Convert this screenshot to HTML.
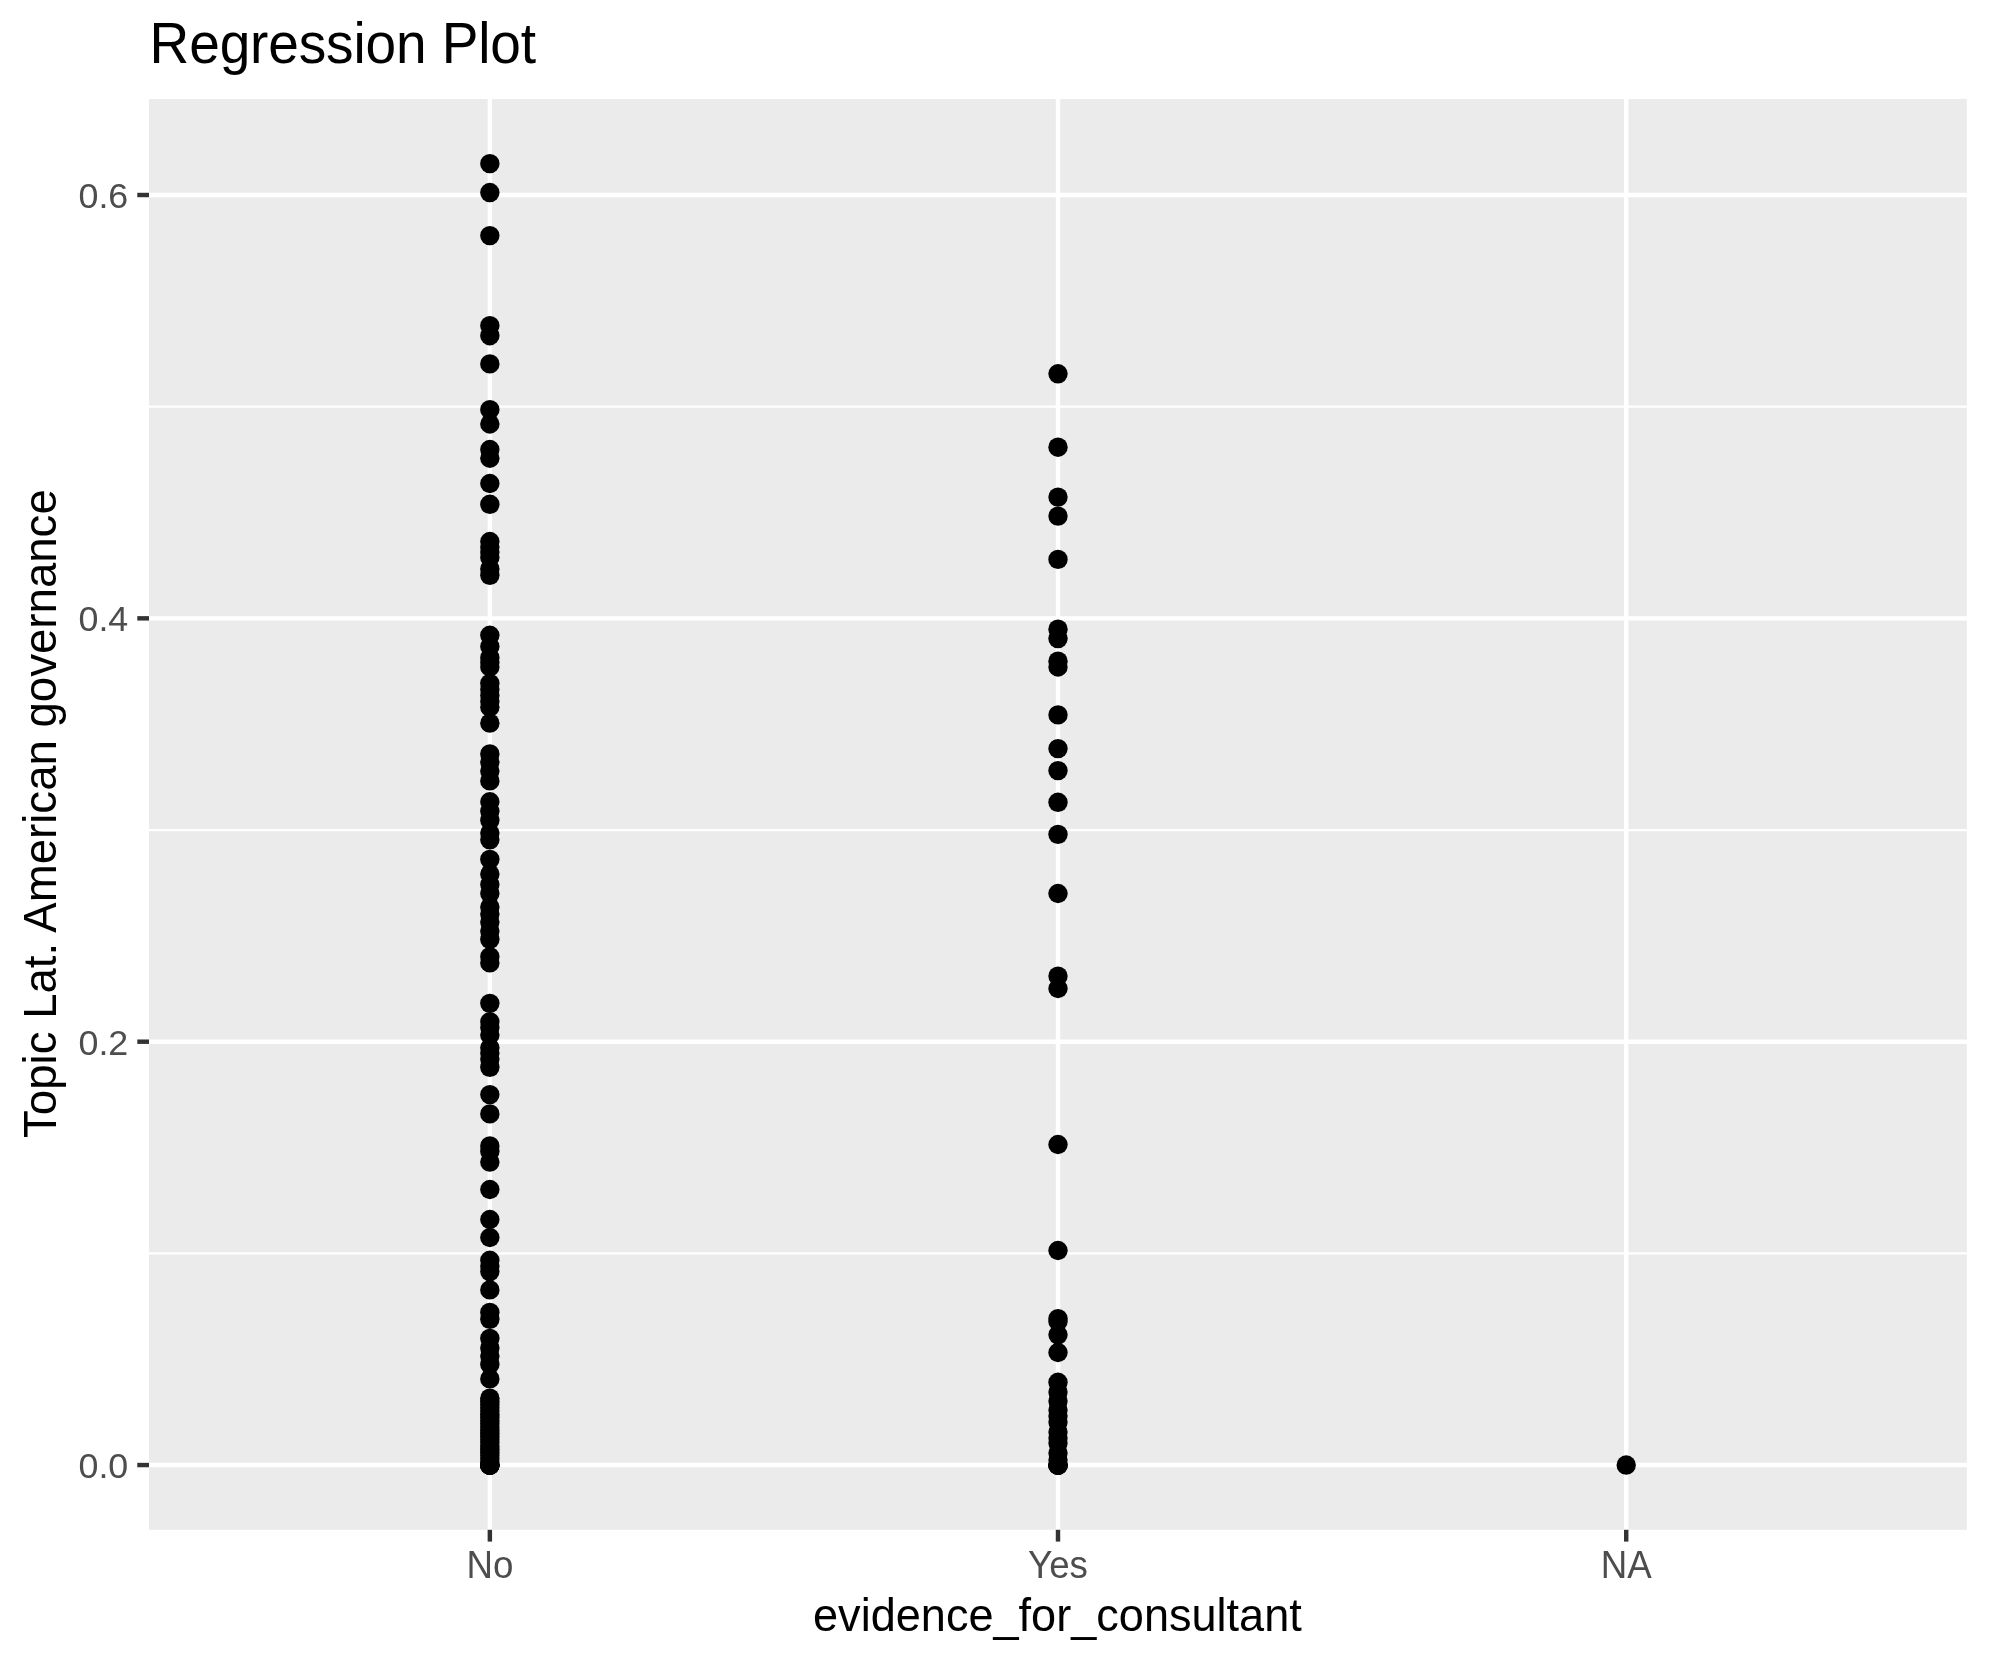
<!DOCTYPE html>
<html><head><meta charset="utf-8"><title>Regression Plot</title>
<style>
html,body{margin:0;padding:0;background:#fff;}
body{width:1990px;height:1665px;overflow:hidden;font-family:"Liberation Sans",sans-serif;}
svg{display:block;will-change:transform;}
text{font-family:"Liberation Sans",sans-serif;}
</style></head><body>
<svg width="1990" height="1665" viewBox="0 0 1990 1665">
<rect x="0" y="0" width="1990" height="1665" fill="#ffffff"/>
<rect x="149" y="99" width="1817.85" height="1430.8" fill="#ebebeb"/>
<g stroke="#ffffff" stroke-width="2.225" fill="none">
<line x1="149" x2="1966.85" y1="1253.38" y2="1253.38"/>
<line x1="149" x2="1966.85" y1="830.02" y2="830.02"/>
<line x1="149" x2="1966.85" y1="406.67" y2="406.67"/>
</g>
<g stroke="#ffffff" stroke-width="4.45" fill="none">
<line x1="149" x2="1966.85" y1="1465.05" y2="1465.05"/>
<line x1="149" x2="1966.85" y1="1041.70" y2="1041.70"/>
<line x1="149" x2="1966.85" y1="618.35" y2="618.35"/>
<line x1="149" x2="1966.85" y1="195.00" y2="195.00"/>
<line x1="489.85" x2="489.85" y1="99" y2="1529.8"/>
<line x1="1058.00" x2="1058.00" y1="99" y2="1529.8"/>
<line x1="1626.20" x2="1626.20" y1="99" y2="1529.8"/>
</g>
<g fill="#000000">
<circle cx="489.85" cy="163.65" r="9.7"/>
<circle cx="489.85" cy="192.55" r="9.7"/>
<circle cx="489.85" cy="235.60" r="9.7"/>
<circle cx="489.85" cy="325.70" r="9.7"/>
<circle cx="489.85" cy="335.70" r="9.7"/>
<circle cx="489.85" cy="363.90" r="9.7"/>
<circle cx="489.85" cy="409.70" r="9.7"/>
<circle cx="489.85" cy="424.00" r="9.7"/>
<circle cx="489.85" cy="449.50" r="9.7"/>
<circle cx="489.85" cy="458.20" r="9.7"/>
<circle cx="489.85" cy="483.50" r="9.7"/>
<circle cx="489.85" cy="504.30" r="9.7"/>
<circle cx="489.85" cy="541.50" r="9.7"/>
<circle cx="489.85" cy="547.00" r="9.7"/>
<circle cx="489.85" cy="552.00" r="9.7"/>
<circle cx="489.85" cy="557.60" r="9.7"/>
<circle cx="489.85" cy="568.90" r="9.7"/>
<circle cx="489.85" cy="575.30" r="9.7"/>
<circle cx="489.85" cy="635.30" r="9.7"/>
<circle cx="489.85" cy="646.50" r="9.7"/>
<circle cx="489.85" cy="657.70" r="9.7"/>
<circle cx="489.85" cy="662.50" r="9.7"/>
<circle cx="489.85" cy="667.00" r="9.7"/>
<circle cx="489.85" cy="683.40" r="9.7"/>
<circle cx="489.85" cy="689.50" r="9.7"/>
<circle cx="489.85" cy="695.50" r="9.7"/>
<circle cx="489.85" cy="701.50" r="9.7"/>
<circle cx="489.85" cy="707.20" r="9.7"/>
<circle cx="489.85" cy="723.15" r="9.7"/>
<circle cx="489.85" cy="753.90" r="9.7"/>
<circle cx="489.85" cy="762.00" r="9.7"/>
<circle cx="489.85" cy="771.00" r="9.7"/>
<circle cx="489.85" cy="780.90" r="9.7"/>
<circle cx="489.85" cy="801.80" r="9.7"/>
<circle cx="489.85" cy="811.30" r="9.7"/>
<circle cx="489.85" cy="820.30" r="9.7"/>
<circle cx="489.85" cy="833.00" r="9.7"/>
<circle cx="489.85" cy="839.80" r="9.7"/>
<circle cx="489.85" cy="859.40" r="9.7"/>
<circle cx="489.85" cy="874.10" r="9.7"/>
<circle cx="489.85" cy="884.60" r="9.7"/>
<circle cx="489.85" cy="893.60" r="9.7"/>
<circle cx="489.85" cy="907.10" r="9.7"/>
<circle cx="489.85" cy="914.00" r="9.7"/>
<circle cx="489.85" cy="922.10" r="9.7"/>
<circle cx="489.85" cy="931.10" r="9.7"/>
<circle cx="489.85" cy="939.40" r="9.7"/>
<circle cx="489.85" cy="956.70" r="9.7"/>
<circle cx="489.85" cy="962.90" r="9.7"/>
<circle cx="489.85" cy="1003.35" r="9.7"/>
<circle cx="489.85" cy="1021.80" r="9.7"/>
<circle cx="489.85" cy="1027.50" r="9.7"/>
<circle cx="489.85" cy="1035.00" r="9.7"/>
<circle cx="489.85" cy="1047.80" r="9.7"/>
<circle cx="489.85" cy="1053.00" r="9.7"/>
<circle cx="489.85" cy="1059.00" r="9.7"/>
<circle cx="489.85" cy="1067.30" r="9.7"/>
<circle cx="489.85" cy="1094.60" r="9.7"/>
<circle cx="489.85" cy="1113.90" r="9.7"/>
<circle cx="489.85" cy="1145.90" r="9.7"/>
<circle cx="489.85" cy="1151.40" r="9.7"/>
<circle cx="489.85" cy="1162.10" r="9.7"/>
<circle cx="489.85" cy="1189.50" r="9.7"/>
<circle cx="489.85" cy="1219.50" r="9.7"/>
<circle cx="489.85" cy="1237.50" r="9.7"/>
<circle cx="489.85" cy="1260.30" r="9.7"/>
<circle cx="489.85" cy="1266.00" r="9.7"/>
<circle cx="489.85" cy="1271.60" r="9.7"/>
<circle cx="489.85" cy="1289.90" r="9.7"/>
<circle cx="489.85" cy="1312.40" r="9.7"/>
<circle cx="489.85" cy="1319.30" r="9.7"/>
<circle cx="489.85" cy="1338.40" r="9.7"/>
<circle cx="489.85" cy="1347.90" r="9.7"/>
<circle cx="489.85" cy="1356.00" r="9.7"/>
<circle cx="489.85" cy="1364.40" r="9.7"/>
<circle cx="489.85" cy="1378.90" r="9.7"/>
<circle cx="489.85" cy="1398.20" r="9.7"/>
<circle cx="489.85" cy="1401.39" r="9.7"/>
<circle cx="489.85" cy="1404.58" r="9.7"/>
<circle cx="489.85" cy="1407.77" r="9.7"/>
<circle cx="489.85" cy="1410.96" r="9.7"/>
<circle cx="489.85" cy="1414.15" r="9.7"/>
<circle cx="489.85" cy="1417.34" r="9.7"/>
<circle cx="489.85" cy="1420.53" r="9.7"/>
<circle cx="489.85" cy="1423.72" r="9.7"/>
<circle cx="489.85" cy="1426.91" r="9.7"/>
<circle cx="489.85" cy="1430.10" r="9.7"/>
<circle cx="489.85" cy="1433.29" r="9.7"/>
<circle cx="489.85" cy="1436.48" r="9.7"/>
<circle cx="489.85" cy="1439.67" r="9.7"/>
<circle cx="489.85" cy="1442.86" r="9.7"/>
<circle cx="489.85" cy="1446.05" r="9.7"/>
<circle cx="489.85" cy="1449.24" r="9.7"/>
<circle cx="489.85" cy="1452.43" r="9.7"/>
<circle cx="489.85" cy="1455.62" r="9.7"/>
<circle cx="489.85" cy="1458.81" r="9.7"/>
<circle cx="489.85" cy="1462.00" r="9.7"/>
<circle cx="489.85" cy="1465.20" r="9.7"/>
<circle cx="489.85" cy="1465.20" r="9.7"/>
<circle cx="489.85" cy="1465.20" r="9.7"/>
<circle cx="489.85" cy="1465.20" r="9.7"/>
<circle cx="489.85" cy="1465.20" r="9.7"/>
<circle cx="489.85" cy="1465.20" r="9.7"/>
<circle cx="1058.00" cy="373.80" r="9.7"/>
<circle cx="1058.00" cy="447.20" r="9.7"/>
<circle cx="1058.00" cy="497.10" r="9.7"/>
<circle cx="1058.00" cy="516.10" r="9.7"/>
<circle cx="1058.00" cy="559.40" r="9.7"/>
<circle cx="1058.00" cy="629.20" r="9.7"/>
<circle cx="1058.00" cy="638.60" r="9.7"/>
<circle cx="1058.00" cy="661.20" r="9.7"/>
<circle cx="1058.00" cy="667.00" r="9.7"/>
<circle cx="1058.00" cy="714.90" r="9.7"/>
<circle cx="1058.00" cy="748.60" r="9.7"/>
<circle cx="1058.00" cy="770.60" r="9.7"/>
<circle cx="1058.00" cy="802.30" r="9.7"/>
<circle cx="1058.00" cy="834.35" r="9.7"/>
<circle cx="1058.00" cy="893.50" r="9.7"/>
<circle cx="1058.00" cy="976.10" r="9.7"/>
<circle cx="1058.00" cy="988.50" r="9.7"/>
<circle cx="1058.00" cy="1144.50" r="9.7"/>
<circle cx="1058.00" cy="1250.50" r="9.7"/>
<circle cx="1058.00" cy="1318.60" r="9.7"/>
<circle cx="1058.00" cy="1321.50" r="9.7"/>
<circle cx="1058.00" cy="1334.80" r="9.7"/>
<circle cx="1058.00" cy="1352.50" r="9.7"/>
<circle cx="1058.00" cy="1382.30" r="9.7"/>
<circle cx="1058.00" cy="1392.00" r="9.7"/>
<circle cx="1058.00" cy="1401.00" r="9.7"/>
<circle cx="1058.00" cy="1410.00" r="9.7"/>
<circle cx="1058.00" cy="1416.00" r="9.7"/>
<circle cx="1058.00" cy="1422.00" r="9.7"/>
<circle cx="1058.00" cy="1432.00" r="9.7"/>
<circle cx="1058.00" cy="1438.00" r="9.7"/>
<circle cx="1058.00" cy="1443.00" r="9.7"/>
<circle cx="1058.00" cy="1453.00" r="9.7"/>
<circle cx="1058.00" cy="1460.00" r="9.7"/>
<circle cx="1058.00" cy="1465.20" r="9.7"/>
<circle cx="1058.00" cy="1465.20" r="9.7"/>
<circle cx="1058.00" cy="1465.20" r="9.7"/>
<circle cx="1058.00" cy="1465.20" r="9.7"/>
<circle cx="1058.00" cy="1465.20" r="9.7"/>
<circle cx="1626.20" cy="1465.05" r="9.7"/>
</g>
<g stroke="#333333" stroke-width="4.45" fill="none">
<line x1="137.3" x2="149" y1="1465.05" y2="1465.05"/>
<line x1="137.3" x2="149" y1="1041.70" y2="1041.70"/>
<line x1="137.3" x2="149" y1="618.35" y2="618.35"/>
<line x1="137.3" x2="149" y1="195.00" y2="195.00"/>
<line x1="489.85" x2="489.85" y1="1529.8" y2="1541.6"/>
<line x1="1058.00" x2="1058.00" y1="1529.8" y2="1541.6"/>
<line x1="1626.20" x2="1626.20" y1="1529.8" y2="1541.6"/>
</g>
<g fill="#4d4d4d">
<text transform="translate(128.25,1477.95)" font-size="35.8px" text-anchor="end">0.0</text>
<text transform="translate(128.25,1054.60)" font-size="35.8px" text-anchor="end">0.2</text>
<text transform="translate(128.25,631.25)" font-size="35.8px" text-anchor="end">0.4</text>
<text transform="translate(128.25,207.90)" font-size="35.8px" text-anchor="end">0.6</text>
<text transform="translate(489.85,1577.90) scale(1,1.04)" font-size="36.67px" text-anchor="middle">No</text>
<text transform="translate(1058.00,1577.90) scale(1,1.04)" font-size="36.67px" text-anchor="middle">Yes</text>
<text transform="translate(1626.20,1577.90) scale(1,1.04)" font-size="36.67px" text-anchor="middle">NA</text>
</g>
<g fill="#000000">
<text letter-spacing="-0.13" transform="translate(149.60,63.07) scale(1,1.03)" font-size="55px" text-anchor="start">Regression Plot</text>
<text transform="translate(1057.40,1631.00) scale(1,1.01)" font-size="45.1px" text-anchor="middle">evidence_for_consultant</text>
<text transform="translate(56.10,813.60) rotate(-90) scale(1,1.01)" font-size="45.6px" text-anchor="middle">Topic Lat. American governance</text>
</g>
</svg>
</body></html>
